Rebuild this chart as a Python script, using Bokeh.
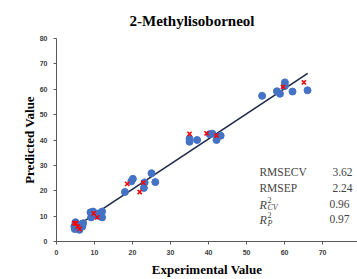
from bokeh.plotting import figure
from bokeh.models import Range1d, Label, FixedTicker
from bokeh.embed import file_html
from bokeh.resources import INLINE

# ---- data ----
cal_x = [5.0, 5.1, 5.4, 6.05, 6.8, 7.0, 4.7, 5.2, 6.5, 5.5, 4.8,
         8.95, 9.6, 9.1, 12.0, 12.0, 10.7, 10.4, 11.5,
         18.0, 20.1, 19.7, 25.0, 23.2, 23.0, 26.0,
         35.0, 35.0, 37.0, 40.3, 41.0, 42.1, 43.2,
         54.1, 58.0, 58.8, 60.1, 60.1, 62.1, 66.05]
cal_y = [7.6, 5.4, 6.6, 4.6, 5.9, 7.2, 6.0, 7.0, 6.8, 5.0, 4.9,
         11.5, 11.8, 9.5, 9.5, 11.8, 10.2, 11.0, 11.2,
         19.5, 24.7, 23.7, 26.9, 23.3, 21.1, 23.4,
         40.5, 39.3, 40.0, 42.3, 42.5, 40.0, 41.7,
         57.4, 59.2, 58.2, 62.7, 61.3, 59.1, 59.6]
val_x = [4.7, 5.1, 5.6, 6.05, 9.8, 10.7, 18.6, 22.8, 21.9, 35.0, 39.5, 42.1, 59.6, 65.1]
val_y = [7.2, 7.2, 5.9, 5.0, 11.1, 9.5, 22.7, 23.2, 19.5, 42.4, 42.6, 41.7, 60.9, 62.7]
fit_slope = 0.99
fit_intercept = 0.8
fit_x = [5.4, 66.1]
fit_y = [fit_slope * v + fit_intercept for v in fit_x]
ticks = [0, 10, 20, 30, 40, 50, 60, 70, 80]
stat_names = ["RMSECV", "RMSEP"]
stat_values = ["3.62", "2.24", "0.96", "0.97"]

# ---- layout ----
W, H = 357, 279
LEFT, TOP, BOTTOM = 56, 38, 34
X_END = 79.2
Y_END = 80

p = figure(width=W, height=H, output_backend="svg", toolbar_location=None,
           x_range=Range1d(0, X_END), y_range=Range1d(0, Y_END),
           min_border_left=LEFT, min_border_right=0, min_border_top=TOP,
           min_border_bottom=BOTTOM,
           title="2-Methylisoborneol")
p.outline_line_color = None
p.grid.visible = False
p.background_fill_color = "white"
p.border_fill_color = "white"

p.title.text_font = "Liberation Serif"
p.title.text_font_style = "bold"
p.title.text_font_size = "15px"
p.title.align = "left"
p.title.offset = 73
p.title.standoff = 19
p.title.text_color = "black"

for ax in (p.xaxis[0], p.yaxis[0]):
    ax.ticker = FixedTicker(ticks=ticks)
    ax.minor_tick_line_color = None
    ax.major_tick_in = 0
    ax.major_tick_out = 3
    ax.axis_line_color = "#595959"
    ax.major_tick_line_color = "#595959"
    ax.major_label_text_font = "Liberation Sans"
    ax.major_label_text_font_style = "bold"
    ax.major_label_text_font_size = "7px"
    ax.major_label_text_color = "#404040"
    ax.axis_label_text_font = "Liberation Serif"
    ax.axis_label_text_font_style = "bold"
    ax.axis_label_text_font_size = "13px"
    ax.axis_label_text_color = "black"
p.xaxis.axis_label = "Experimental Value"
p.yaxis.axis_label = "Predicted Value"
p.xaxis.major_label_standoff = 5
p.xaxis.axis_label_standoff = 4
p.yaxis.major_label_standoff = 6
p.yaxis.axis_label_standoff = 0

p.line(fit_x, fit_y, line_color="#1c2a48", line_width=1.6)
p.scatter(cal_x, cal_y, marker="circle", size=7, fill_color="#4472C4",
          line_color="#4472C4")
p.scatter(val_x, val_y, marker="x", size=6, line_color="#ff0000", line_width=1.5)

# stats box, positioned in data space inside the frame
serif = "Liberation Serif"
name_x = 53.4
val_x_pos = [77.9, 77.9, 77.1, 77.1]
rows_y = [27.3, 21.1, 14.9, 8.8]
for i, nm in enumerate(stat_names):
    p.add_layout(Label(x=name_x, y=rows_y[i], text=nm, text_font=serif,
                       text_font_size="11.5px", text_baseline="middle"))
for i, v in enumerate(stat_values):
    p.add_layout(Label(x=val_x_pos[i], y=rows_y[i], text=v, text_font=serif,
                       text_font_size="11.5px", text_align="right", text_baseline="middle"))
for i, sub in enumerate(["CV", "P"]):
    r = rows_y[2 + i]
    p.add_layout(Label(x=name_x, y=r - 0.4, text="R", text_font=serif,
                       text_font_style="italic", text_font_size="12px", text_baseline="middle"))
    p.add_layout(Label(x=name_x + 2.1, y=r + 1.6, text="2", text_font=serif,
                       text_font_size="8px", text_baseline="middle"))
    p.add_layout(Label(x=name_x + 2.1, y=r - 1.6, text=sub, text_font=serif,
                       text_font_style="italic", text_font_size="8px", text_baseline="middle"))

open("out.html", "w").write(file_html(p, INLINE))
